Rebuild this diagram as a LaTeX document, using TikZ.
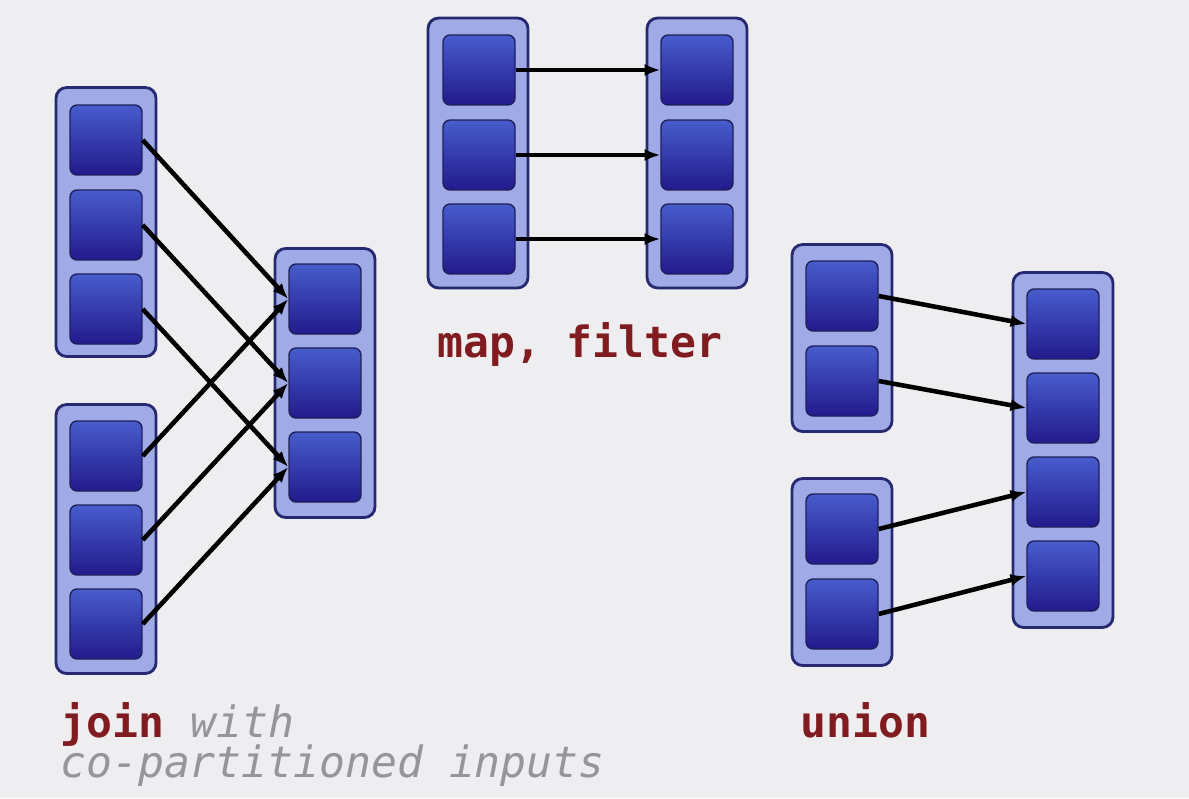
\documentclass[tikz,border=0pt]{standalone}
\usepackage{fontspec}
\setmonofont{DejaVu Sans Mono}
\usepackage{tikz}
\usetikzlibrary{arrows.meta, positioning}
\definecolor{bgcolor}{RGB}{238, 238, 240}
\definecolor{framecolor}{RGB}{38, 40, 112}
\definecolor{framefill}{RGB}{160, 170, 230}
\definecolor{cellfill}{RGB}{72, 92, 204}
\definecolor{celldark}{RGB}{34, 26, 140}
\definecolor{opcolor}{RGB}{128, 28, 32}
\definecolor{notecolor}{RGB}{150, 150, 152}

\begin{document}
\begin{tikzpicture}[
    x=0.02cm, y=-0.02cm,
    rdd/.style={draw=framecolor, line width=1.6pt, fill=framefill, rounded corners=6pt, minimum width=2cm},
    part/.style={draw=framecolor!80!black, line width=0.8pt, top color=cellfill, bottom color=celldark, rounded corners=4pt, minimum width=1.44cm, minimum height=1.4cm},
    arrow/.style={-{Latex[length=9pt, width=7pt]}, line width=2.6pt, black},
    opname/.style={font=\ttfamily\bfseries\fontsize{24.5}{23}\selectfont, text=opcolor, inner sep=0pt},
    note/.style={font=\ttfamily\itshape\fontsize{24.5}{23}\selectfont, text=notecolor, inner sep=0pt}
]
    % Background
    \fill[bgcolor] (0, 0) rectangle (1189, 798);

    % Join: inputs and output
    \node[rdd, minimum height=5.38cm] (joinA) at (106, 222) {};
    \node[part] (a1) at (106, 140) {};
    \node[part] (a2) at (106, 225) {};
    \node[part] (a3) at (106, 309) {};

    \node[rdd, minimum height=5.38cm] (joinB) at (106, 539) {};
    \node[part] (b1) at (106, 456) {};
    \node[part] (b2) at (106, 540) {};
    \node[part] (b3) at (106, 624) {};

    \node[rdd, minimum height=5.38cm] (joinC) at (325, 383) {};
    \node[part] (c1) at (325, 299) {};
    \node[part] (c2) at (325, 383) {};
    \node[part] (c3) at (325, 467) {};

    % Map, filter
    \node[rdd, minimum height=5.4cm] (mapA) at (478, 153) {};
    \node[part] (m1) at (479, 70) {};
    \node[part] (m2) at (479, 155) {};
    \node[part] (m3) at (479, 239) {};

    \node[rdd, minimum height=5.4cm] (mapB) at (697, 153) {};
    \node[part] (n1) at (697, 70) {};
    \node[part] (n2) at (697, 155) {};
    \node[part] (n3) at (697, 239) {};

    % Union
    \node[rdd, minimum height=3.74cm] (unionA) at (842, 338) {};
    \node[part] (u1) at (842, 296) {};
    \node[part] (u2) at (842, 381) {};

    \node[rdd, minimum height=3.74cm] (unionB) at (842, 572) {};
    \node[part] (v1) at (842, 529) {};
    \node[part] (v2) at (842, 614) {};

    \node[rdd, minimum height=7.1cm] (unionC) at (1063, 450) {};
    \node[part] (w1) at (1063, 324) {};
    \node[part] (w2) at (1063, 408) {};
    \node[part] (w3) at (1063, 492) {};
    \node[part] (w4) at (1063, 576) {};

    % Arrows
    \draw[arrow] (a1.east) -- (c1.west);
    \draw[arrow] (a2.east) -- (c2.west);
    \draw[arrow] (a3.east) -- (c3.west);
    \draw[arrow] (b1.east) -- (c1.west);
    \draw[arrow] (b2.east) -- (c2.west);
    \draw[arrow] (b3.east) -- (c3.west);

    \draw[arrow] (m1.east) -- (n1.west);
    \draw[arrow] (m2.east) -- (n2.west);
    \draw[arrow] (m3.east) -- (n3.west);

    \draw[arrow] (u1.east) -- (w1.west);
    \draw[arrow] (u2.east) -- (w2.west);
    \draw[arrow] (v1.east) -- (w3.west);
    \draw[arrow] (v2.east) -- (w4.west);

    % Labels
    \node[opname, anchor=base west] (maplabel) at (437, 357) {map, filter};
    \node[opname, anchor=base west] (unionlabel) at (800, 737) {union};
    \node[opname, anchor=base west] (joinlabel) at (60, 737) {join};
    \node[note, anchor=base west] (withlabel) at (joinlabel.base east) {\ with};
    \node[note, anchor=base west] (inputlabel) at (60, 777) {co-partitioned inputs};
\end{tikzpicture}
\end{document}
